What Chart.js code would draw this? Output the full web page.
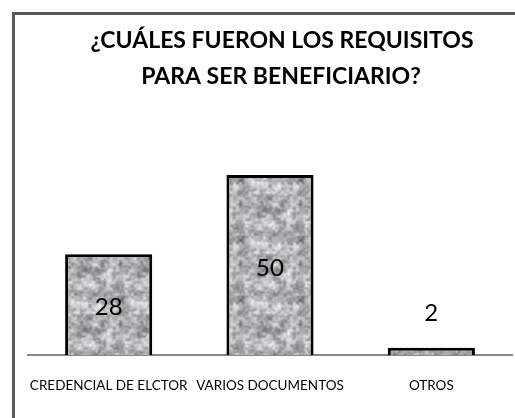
<!DOCTYPE html>
<html>
<head>
<meta charset="utf-8">
<script src="https://cdn.jsdelivr.net/npm/chart.js@4"></script>
<style>
  html, body { margin: 0; padding: 0; background: #fff; }
  #wrap { position: relative; width: 515px; height: 418px; overflow: hidden; }
  #frame { position: absolute; left: 12px; top: 12px; width: 600px; height: 500px;
           border-left: 3px solid #595959; border-top: 3px solid #595959; }
  canvas { position: absolute; left: 0; top: 0; }
</style>
</head>
<body>
<div id="wrap">
  <div id="frame"></div>
  <canvas id="grafica" width="515" height="418"></canvas>
</div>
<script>
// Datos de la gráfica
var categorias = ['CREDENCIAL DE ELCTOR', 'VARIOS DOCUMENTOS', 'OTROS'];
var valores = [28, 50, 2];
var titulo = ['¿CUÁLES FUERON LOS REQUISITOS', 'PARA SER BENEFICIARIO?'];

// Textura gris granulada para las barras (ruido deterministico)
function hash(x, y) {
  var h = Math.sin(x * 127.1 + y * 311.7) * 43758.5453;
  return h - Math.floor(h);
}
function ruido(x, y, celda, tam) {
  var n = tam / celda;
  var gx = x / celda, gy = y / celda;
  var x0 = Math.floor(gx), y0 = Math.floor(gy);
  var fx = gx - x0, fy = gy - y0;
  fx = fx * fx * (3 - 2 * fx); fy = fy * fy * (3 - 2 * fy);
  var a = hash(x0 % n, y0 % n), b = hash((x0 + 1) % n, y0 % n);
  var c = hash(x0 % n, (y0 + 1) % n), d = hash((x0 + 1) % n, (y0 + 1) % n);
  return (a * (1 - fx) + b * fx) * (1 - fy) + (c * (1 - fx) + d * fx) * fy;
}
function crearTextura() {
  var t = 60;
  var c = document.createElement('canvas');
  c.width = t; c.height = t;
  var g = c.getContext('2d');
  var img = g.createImageData(t, t);
  for (var y = 0; y < t; y++) {
    for (var x = 0; x < t; x++) {
      var n = 0.45 * ruido(x, y, 6, t) + 0.35 * ruido(x, y, 3, t) + 0.2 * ruido(x, y, 2, t);
      var v = Math.round(90 + n * 170);
      if (v > 238) v = 238;
      var i = (y * t + x) * 4;
      img.data[i] = v; img.data[i + 1] = v; img.data[i + 2] = v + 3; img.data[i + 3] = 255;
    }
  }
  g.putImageData(img, 0, 0);
  return g.createPattern(c, 'repeat');
}

// Titulo y etiquetas de datos
var textos = {
  id: 'textos',
  afterDatasetsDraw: function(chart) {
    var ctx = chart.ctx;
    ctx.save();
    ctx.fillStyle = '#000';
    ctx.textAlign = 'center';
    ctx.textBaseline = 'middle';
    ctx.font = 'bold 23px Lato';
    ctx.fillText(titulo[0], 282, 41);
    ctx.fillText(titulo[1], 281, 77);
    ctx.font = '24px Lato';
    var meta = chart.getDatasetMeta(0);
    meta.data.forEach(function(bar, i) {
      var alto = bar.base - bar.y;
      var y = alto > 30 ? (bar.y + bar.base) / 2 + 3 : bar.y - 35;
      ctx.fillText(String(valores[i]), bar.x, y);
    });
    ctx.restore();
  }
};

var ctx = document.getElementById('grafica').getContext('2d');
new Chart(ctx, {
  type: 'bar',
  data: {
    labels: categorias,
    datasets: [{
      data: valores,
      backgroundColor: crearTextura(),
      borderColor: '#000',
      borderWidth: 3,
      borderSkipped: 'bottom',
      barPercentage: 0.54,
      categoryPercentage: 1
    }]
  },
  options: {
    responsive: false,
    animation: false,
    layout: { padding: { left: 28, right: 3, top: 139, bottom: 0 } },
    plugins: {
      legend: { display: false },
      tooltip: { enabled: false },
      title: { display: false }
    },
    scales: {
      x: {
        grid: { display: false },
        border: { color: '#888', width: 2 },
        ticks: { color: '#000', font: { family: 'Lato', size: 13.5 }, padding: 15, maxRotation: 0 },
        afterFit: function(scale) { scale.height = 63; }
      },
      y: {
        display: false,
        min: 0,
        max: 60
      }
    }
  },
  plugins: [textos]
});
</script>
</body>
</html>
